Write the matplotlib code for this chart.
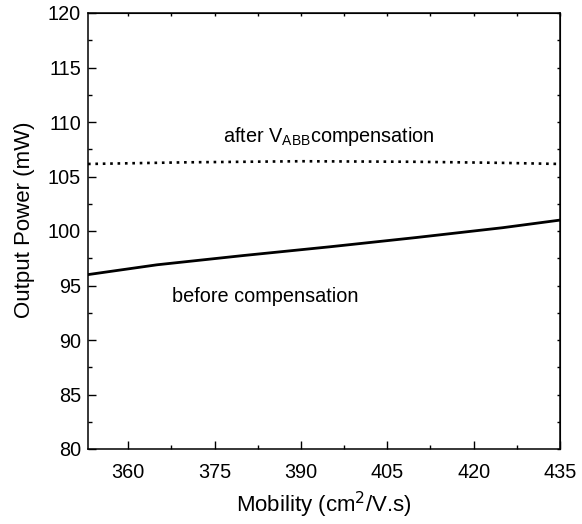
import numpy as np
import matplotlib.pyplot as plt
from matplotlib.ticker import MultipleLocator

plt.rcParams['font.family'] = ['Liberation Sans', 'DejaVu Sans']

# mobility (cm^2/V.s) and output power (mW)
mobility = [353, 365, 380, 395, 410, 425, 435]
power_before = [96.0, 96.9, 97.75, 98.55, 99.4, 100.3, 101.0]
mobility_after = [353, 370, 390, 410, 425, 435]
power_after = [106.15, 106.3, 106.4, 106.35, 106.25, 106.15]

fig = plt.figure(figsize=(5.82, 5.24), dpi=100)
ax = fig.add_axes([88/582, 75/524, 472/582, 436/524])

ax.plot(mobility, power_before, color='black', linewidth=2.0)
ax.plot(mobility_after, power_after, color='black', linewidth=1.9, linestyle=(0, (1, 1.8)))

ax.set_xlim(353, 435)
ax.set_ylim(80, 120)
ax.xaxis.set_major_locator(MultipleLocator(15))
ax.xaxis.set_minor_locator(MultipleLocator(7.5))
ax.yaxis.set_major_locator(MultipleLocator(5))
ax.yaxis.set_minor_locator(MultipleLocator(2.5))
ax.set_xticks([360, 375, 390, 405, 420, 435])

ax.tick_params(which='major', direction='in', length=6, width=1, labelsize=14.3)
ax.tick_params(axis='x', which='major', pad=10)
ax.tick_params(axis='y', which='major', pad=5)
ax.tick_params(which='minor', direction='in', length=3, width=1)
ax.tick_params(which='both', top=False, right=False)

# short ticks on top and right edges
axt = ax.secondary_xaxis('top')
axt.set_xticks(np.arange(360, 436, 7.5))
axt.tick_params(direction='in', length=2.5, width=1, labeltop=False)
axr = ax.secondary_yaxis('right')
axr.set_yticks(np.arange(80, 121, 2.5))
axr.tick_params(direction='in', length=2.5, width=1, labelright=False)

for s in ax.spines.values():
    s.set_linewidth(1.1)

ax.set_xlabel('Mobility (cm$^2$/V.s)', fontsize=16, labelpad=6)
ax.set_ylabel('Output Power (mW)', fontsize=16)
ax.yaxis.set_label_coords(-0.113, 0.525)

ax.text(376.4, 108.2, r'after V$_{\mathregular{ABB}}$compensation', fontsize=14.3, va='baseline')
ax.text(367.6, 93.5, 'before compensation', fontsize=14.3, va='baseline')

fig.savefig('out.png', dpi=100)
